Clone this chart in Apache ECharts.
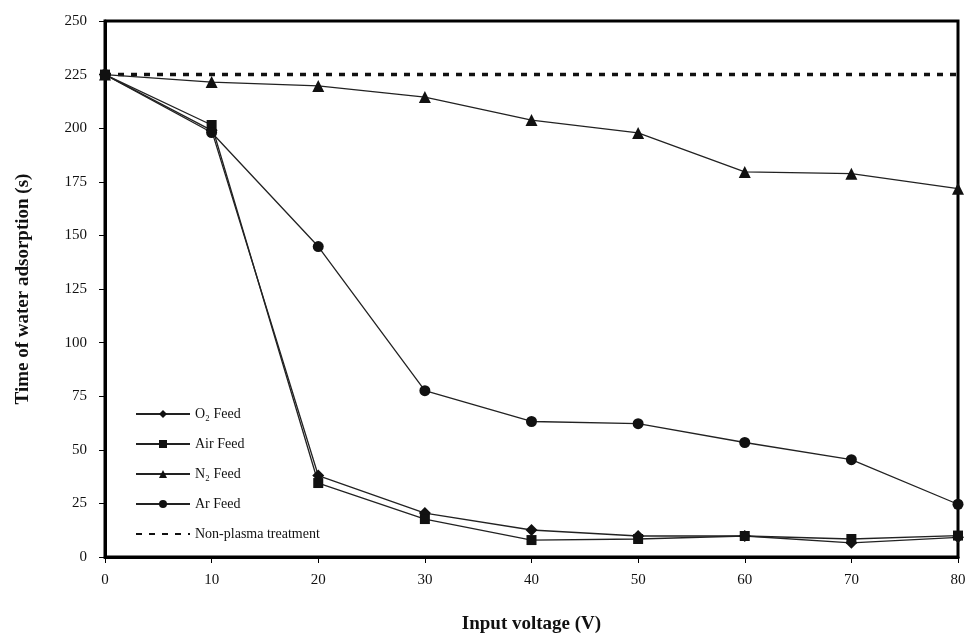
<!DOCTYPE html>
<html>
<head>
<meta charset="utf-8">
<script src="https://cdn.jsdelivr.net/npm/echarts@6/dist/echarts.min.js"></script>
<style>
  html, body { margin: 0; padding: 0; background: #fff; }
  #chart { width: 970px; height: 644px; }
</style>
</head>
<body>
<div id="chart"></div>
<script>
// input voltage (V)
var voltages = ['0', '10', '20', '30', '40', '50', '60', '70', '80'];

// time of water adsorption (s)
var o2Feed = [225, 199, 38, 20.5, 12.6, 9.8, 9.8, 6.6, 9.2];
var airFeed = [225, 201.5, 34.5, 17.7, 7.9, 8.4, 9.8, 8.4, 10];
var n2Feed = [225, 221.5, 219.7, 214.5, 203.8, 197.8, 179.6, 178.8, 171.8];
var arFeed = [225, 198, 144.8, 77.6, 63.2, 62.2, 53.4, 45.4, 24.6];
var nonPlasma = [225, 225, 225, 225, 225, 225, 225, 225, 225];

var serif = '"Liberation Serif", "DejaVu Serif", serif';

function feedSeries(name, data, symbol, size) {
  return {
    name: name,
    type: 'line',
    data: data,
    symbol: symbol,
    symbolSize: size,
    showAllSymbol: true,
    color: '#111',
    lineStyle: { color: '#222', width: 1.3 },
    itemStyle: { color: '#111' },
    emphasis: { disabled: true },
    z: 3
  };
}

var chart = echarts.init(document.getElementById('chart'));
var option = {
  backgroundColor: '#fff',
  animation: false,
  textStyle: { fontFamily: serif },
  grid: {
    left: 105, right: 12, top: 21, bottom: 87,
    show: true,
    borderColor: '#000',
    borderWidth: 3
  },
  legend: {
    orient: 'vertical',
    left: 130,
    top: 402,
    itemWidth: 54,
    itemHeight: 10,
    itemGap: 16,
    textStyle: { fontFamily: serif, fontSize: 14, color: '#111' },
    data: [
      { name: 'O\u2082 Feed' },
      { name: 'Air Feed' },
      { name: 'N\u2082 Feed' },
      { name: 'Ar Feed' },
      { name: 'Non-plasma treatment', itemStyle: { opacity: 0 } }
    ]
  },
  xAxis: {
    type: 'category',
    data: voltages,
    boundaryGap: false,
    name: 'Input voltage (V)',
    nameLocation: 'middle',
    nameGap: 58,
    nameTextStyle: { fontFamily: serif, fontSize: 19, fontWeight: 'bold', color: '#111' },
    axisLine: { lineStyle: { color: '#000', width: 3 } },
    axisTick: { show: true, length: 6, alignWithLabel: true, lineStyle: { color: '#000', width: 1 } },
    axisLabel: { fontFamily: serif, fontSize: 15, color: '#111', margin: 16 },
    splitLine: { show: false }
  },
  yAxis: {
    type: 'value',
    min: 0,
    max: 250,
    interval: 25,
    name: 'Time of water adsorption (s)',
    nameLocation: 'middle',
    nameGap: 72,
    nameTextStyle: { fontFamily: serif, fontSize: 19, fontWeight: 'bold', color: '#111' },
    axisLine: { show: true, lineStyle: { color: '#000', width: 3 } },
    axisTick: { show: true, length: 6, lineStyle: { color: '#000', width: 1 } },
    axisLabel: { fontFamily: serif, fontSize: 15, color: '#111', margin: 18 },
    splitLine: { show: false }
  },
  series: [
    feedSeries('O\u2082 Feed', o2Feed, 'diamond', 12),
    feedSeries('Air Feed', airFeed, 'rect', 10),
    feedSeries('N\u2082 Feed', n2Feed, 'triangle', 12),
    feedSeries('Ar Feed', arFeed, 'circle', 11),
    {
      name: 'Non-plasma treatment',
      type: 'line',
      data: nonPlasma,
      symbol: 'none',
      color: '#111',
      lineStyle: { color: '#111', width: 3.5, type: [6, 7] },
      emphasis: { disabled: true },
      z: 2
    }
  ]
};
chart.setOption(option);
</script>
</body>
</html>
